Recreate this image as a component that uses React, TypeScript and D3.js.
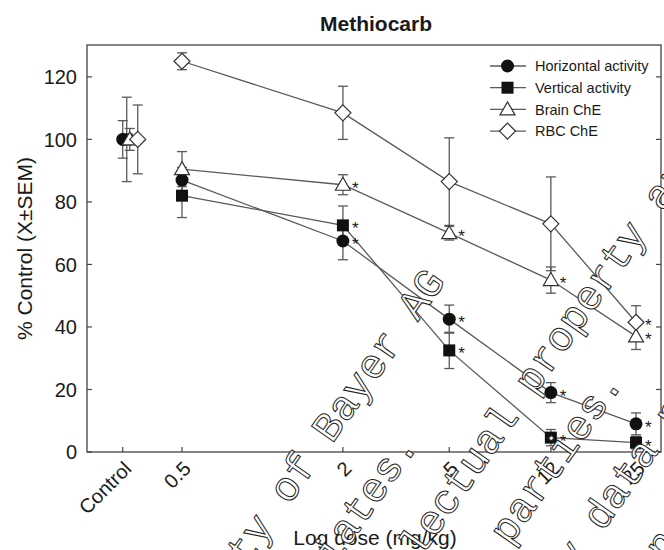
import React from "react";
import * as d3 from "d3";

// Methiocarb dose-response: activity and cholinesterase as % of control (mean ± SEM)
const doses = [0.5, 2, 5, 12, 25];
const doseTickLabels = ["0.5", "2", "5", "12", "25"];
const controlDose = 0.3;
const controlLabel = "Control";

const seriesNames = ["Horizontal activity", "Vertical activity", "Brain ChE", "RBC ChE"];

const horizontalValues = [87, 67.5, 42.5, 19, 9];
const horizontalErrors = [4, 6, 4.5, 3.2, 3.5];
const horizontalSignificant = [false, true, true, true, true];

const verticalValues = [82, 72.5, 32.5, 4.6, 3];
const verticalErrors = [7, 6.2, 5.8, 2.6, 2];
const verticalSignificant = [false, true, true, true, true];

const brainValues = [90.5, 85.5, 70, 55, 37];
const brainErrors = [5.6, 3.2, 2.2, 4.2, 4.2];
const brainSignificant = [false, true, true, true, true];

const rbcValues = [125, 108.5, 86.5, 73, 41.5];
const rbcErrors = [2.7, 8.5, 14, 15, 5.3];
const rbcSignificant = [false, false, false, false, true];

const controlValues = [100, 100, 100, 100];
const controlErrors = [6, 13.5, 3.5, 11];

const yTicks = [0, 20, 40, 60, 80, 100, 120];

const wmLines = [
  "This document is the property of Bayer AG",
  "and/or any of its affiliates.",
  "to rights such as intellectual property and copy rights",
  "and copy rights of the owner and third parties.",
  "may fall under a regulatory data protection regime.",
  "Consequently, any publication",
];

// layout for the diagonal outlined lines: anchor char index, its centre along the line, line offset
const wmLayout = [
  { anchor: 30, s: -236, n: 512 },
  { anchor: 28, s: -137, n: 584 },
  { anchor: 31, s: -6, n: 650 },
  { anchor: 39, s: -143, n: 716 },
  { anchor: 28, s: -78, n: 784 },
  { anchor: 2, s: -67, n: 852 },
];

const W = 664;
const H = 550;
const left = 87;
const right = 661;
const top = 45;
const bottom = 452;

const FONT = "'Liberation Sans', Arial, sans-serif";
const INK = "#1a1a1a";
const LINE = "#5a5a5a";

const x = d3.scaleLog().domain([0.2205, 31.0]).range([left, right]);
const y = d3.scaleLinear().domain([0, 130.2]).range([bottom, top]);

type Series = {
  name: string;
  values: number[];
  errors: number[];
  sig: boolean[];
  shape: string;
  ctrlOffset: number;
};

const series: Series[] = [
  { name: seriesNames[0], values: horizontalValues, errors: horizontalErrors, sig: horizontalSignificant, shape: "circle", ctrlOffset: 0 },
  { name: seriesNames[1], values: verticalValues, errors: verticalErrors, sig: verticalSignificant, shape: "square", ctrlOffset: 4 },
  { name: seriesNames[2], values: brainValues, errors: brainErrors, sig: brainSignificant, shape: "triangle", ctrlOffset: 7 },
  { name: seriesNames[3], values: rbcValues, errors: rbcErrors, sig: rbcSignificant, shape: "diamond", ctrlOffset: 15 },
];

function Marker({ shape, cx, cy }: { shape: string; cx: number; cy: number }) {
  if (shape === "circle") return <circle cx={cx} cy={cy} r={6.5} fill="#111" />;
  if (shape === "square") return <rect x={cx - 6} y={cy - 6} width={12} height={12} fill="#111" />;
  if (shape === "triangle")
    return (
      <path
        d={`M${cx},${cy - 7.5} L${cx + 7.5},${cy + 5.5} L${cx - 7.5},${cy + 5.5} Z`}
        fill="white"
        stroke="#333"
        strokeWidth={1.2}
      />
    );
  return (
    <path
      d={`M${cx},${cy - 8} L${cx + 8},${cy} L${cx},${cy + 8} L${cx - 8},${cy} Z`}
      fill="white"
      stroke="#333"
      strokeWidth={1.2}
    />
  );
}

function ErrorBar({ cx, v, e }: { cx: number; v: number; e: number }) {
  const y1 = y(v + e);
  const y2 = y(v - e);
  return (
    <g stroke={LINE} strokeWidth={1.3}>
      <line x1={cx} x2={cx} y1={y1} y2={y2} />
      <line x1={cx - 5} x2={cx + 5} y1={y1} y2={y1} />
      <line x1={cx - 5} x2={cx + 5} y1={y2} y2={y2} />
    </g>
  );
}

export default function App() {
  const line = d3
    .line<number>()
    .x((_, i) => x(doses[i]))
    .y((v) => y(v));

  const dir = [Math.cos((55 * Math.PI) / 180), -Math.sin((55 * Math.PI) / 180)];
  const nrm = [-dir[1], dir[0]];
  const adv = 24.9;

  return (
    <svg width={W} height={H} style={{ display: "block", position: "absolute", left: 0, top: 0 }}>
      <rect width={W} height={H} fill="white" />
      <text x={376} y={31} textAnchor="middle" fontFamily={FONT} fontWeight="bold" fontSize={21} fill={INK}>
        Methiocarb
      </text>

      {/* frame */}
      <rect x={left} y={top} width={right - left} height={bottom - top} fill="none" stroke="#444" strokeWidth={1.3} />

      {/* y ticks, both sides, pointing inward */}
      {yTicks.map((t) => (
        <g key={t}>
          <line x1={left} x2={left + 5} y1={y(t)} y2={y(t)} stroke="#444" strokeWidth={1.2} />
          <line x1={right - 5} x2={right} y1={y(t)} y2={y(t)} stroke="#444" strokeWidth={1.2} />
          <text x={77} y={y(t)} dy="0.36em" textAnchor="end" fontFamily={FONT} fontSize={20} fill={INK}>
            {t}
          </text>
        </g>
      ))}

      {/* x ticks */}
      {[controlDose, ...doses].map((dv, i) => {
        const label = i === 0 ? controlLabel : doseTickLabels[i - 1];
        const tx = x(dv);
        return (
          <g key={label}>
            <line x1={tx} x2={tx} y1={bottom} y2={bottom - 5} stroke="#444" strokeWidth={1.2} />
            <text
              transform={`translate(${tx + 10},${470}) rotate(-45)`}
              textAnchor="end"
              fontFamily={FONT}
              fontSize={20}
              fill={INK}
            >
              {label}
            </text>
          </g>
        );
      })}

      <text
        transform={`translate(32,${(top + bottom) / 2}) rotate(-90)`}
        textAnchor="middle"
        fontFamily={FONT}
        fontSize={21}
        fill={INK}
      >
        % Control (X±SEM)
      </text>
      <text x={375} y={545} textAnchor="middle" fontFamily={FONT} fontSize={21} fill={INK}>
        Log dose (mg/kg)
      </text>

      {/* connecting lines */}
      {series.map((s) => (
        <path key={s.name} d={line(s.values) || ""} fill="none" stroke={LINE} strokeWidth={1.3} />
      ))}

      {/* error bars */}
      {series.map((s, si) => (
        <g key={s.name}>
          <ErrorBar cx={x(controlDose) + s.ctrlOffset} v={controlValues[si]} e={controlErrors[si]} />
          {s.values.map((v, i) => (
            <ErrorBar key={i} cx={x(doses[i])} v={v} e={s.errors[i]} />
          ))}
        </g>
      ))}

      {/* markers */}
      {series.map((s, si) => (
        <g key={s.name}>
          <Marker shape={s.shape} cx={x(controlDose) + s.ctrlOffset} cy={y(controlValues[si])} />
          {s.values.map((v, i) => (
            <g key={i}>
              <Marker shape={s.shape} cx={x(doses[i])} cy={y(v)} />
              {s.sig[i] && (
                <text x={x(doses[i]) + 9} y={y(v) + 9} fontFamily={FONT} fontSize={17} fill={INK}>
                  *
                </text>
              )}
            </g>
          ))}
        </g>
      ))}

      {/* legend */}
      {series.map((s, i) => {
        const ly = 66 + i * 21.7;
        return (
          <g key={s.name}>
            <line x1={490} x2={526} y1={ly} y2={ly} stroke={LINE} strokeWidth={1.3} />
            <Marker shape={s.shape} cx={507.5} cy={ly} />
            <text x={535} y={ly} dy="0.36em" fontFamily={FONT} fontSize={14.5} fill={INK}>
              {s.name}
            </text>
          </g>
        );
      })}

      {/* diagonal outlined text */}
      <g>
        {wmLines.map((t, i) => {
          const L = wmLayout[i];
          const sStart = L.s - L.anchor * adv - adv / 2;
          const nBase = L.n + 15;
          const px = sStart * dir[0] + nBase * nrm[0];
          const py = sStart * dir[1] + nBase * nrm[1];
          return (
            <text
              key={i}
              transform={`translate(${px},${py}) rotate(-55)`}
              fontFamily="'Liberation Mono', 'DejaVu Sans Mono', monospace"
              fontSize={41.5}
              fill="white"
              stroke="#222"
              strokeWidth={1}
              style={{ whiteSpace: "pre" }}
            >
              {t}
            </text>
          );
        })}
      </g>
    </svg>
  );
}
